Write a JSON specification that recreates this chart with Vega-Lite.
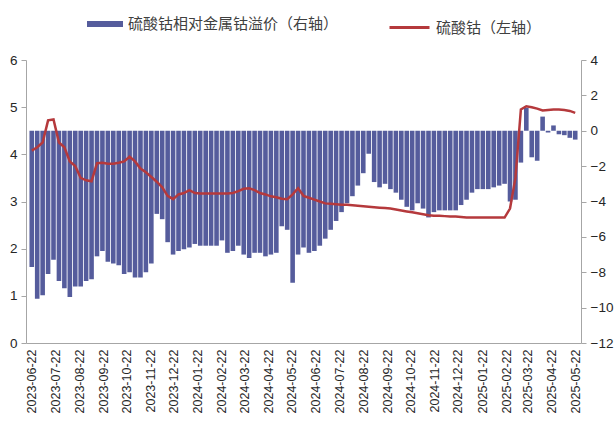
{
  "$schema": "https://vega.github.io/schema/vega-lite/v6.json",
  "width": 555,
  "height": 283,
  "autosize": {"type": "none"},
  "padding": {"left": 26, "top": 60, "right": 33, "bottom": 82},
  "config": {
    "view": {"stroke": null},
    "font": "Liberation Sans",
    "axis": {"labelFont": "Liberation Sans", "labelColor": "#262626", "domainColor": "#A6A6A6", "tickColor": "#A6A6A6", "grid": false, "title": null},
    "legend": {"labelFont": "Noto Sans CJK SC", "labelFontSize": 15, "labelColor": "#404040", "labelLimit": 500, "padding": 0, "labelOffset": 5, "title": null}
  },
  "data": {
    "format": {"parse": {"date": "utc:'%Y-%m-%d'"}},
    "values": [
      {"date": "2023-06-22", "premium": -7.7, "price": 4.08},
      {"date": "2023-06-29", "premium": -9.5, "price": 4.15},
      {"date": "2023-07-06", "premium": -9.3, "price": 4.25},
      {"date": "2023-07-13", "premium": -8.1, "price": 4.72},
      {"date": "2023-07-20", "premium": -7.3, "price": 4.74},
      {"date": "2023-07-27", "premium": -8.5, "price": 4.25},
      {"date": "2023-08-03", "premium": -8.9, "price": 4.15},
      {"date": "2023-08-10", "premium": -9.4, "price": 3.85},
      {"date": "2023-08-17", "premium": -8.8, "price": 3.75},
      {"date": "2023-08-24", "premium": -8.8, "price": 3.5},
      {"date": "2023-08-31", "premium": -8.5, "price": 3.45},
      {"date": "2023-09-07", "premium": -8.4, "price": 3.43},
      {"date": "2023-09-14", "premium": -7.1, "price": 3.81},
      {"date": "2023-09-21", "premium": -6.8, "price": 3.82},
      {"date": "2023-09-28", "premium": -7.4, "price": 3.8},
      {"date": "2023-10-05", "premium": -7.5, "price": 3.8},
      {"date": "2023-10-12", "premium": -7.6, "price": 3.82},
      {"date": "2023-10-19", "premium": -8.1, "price": 3.85},
      {"date": "2023-10-26", "premium": -8.0, "price": 3.95},
      {"date": "2023-11-02", "premium": -8.3, "price": 3.85},
      {"date": "2023-11-09", "premium": -8.3, "price": 3.7},
      {"date": "2023-11-16", "premium": -8.0, "price": 3.62},
      {"date": "2023-11-23", "premium": -7.5, "price": 3.52},
      {"date": "2023-11-30", "premium": -4.7, "price": 3.42},
      {"date": "2023-12-07", "premium": -5.0, "price": 3.3},
      {"date": "2023-12-14", "premium": -6.3, "price": 3.12},
      {"date": "2023-12-21", "premium": -7.0, "price": 3.05},
      {"date": "2023-12-28", "premium": -6.8, "price": 3.15},
      {"date": "2024-01-04", "premium": -6.7, "price": 3.18},
      {"date": "2024-01-11", "premium": -6.6, "price": 3.24},
      {"date": "2024-01-18", "premium": -6.4, "price": 3.18},
      {"date": "2024-01-25", "premium": -6.5, "price": 3.17},
      {"date": "2024-02-01", "premium": -6.5, "price": 3.17},
      {"date": "2024-02-08", "premium": -6.5, "price": 3.17},
      {"date": "2024-02-15", "premium": -6.5, "price": 3.17},
      {"date": "2024-02-22", "premium": -6.2, "price": 3.17},
      {"date": "2024-02-29", "premium": -6.9, "price": 3.17},
      {"date": "2024-03-07", "premium": -6.8, "price": 3.18},
      {"date": "2024-03-14", "premium": -6.5, "price": 3.22},
      {"date": "2024-03-21", "premium": -7.0, "price": 3.27},
      {"date": "2024-03-28", "premium": -7.2, "price": 3.28},
      {"date": "2024-04-04", "premium": -6.9, "price": 3.24},
      {"date": "2024-04-11", "premium": -6.9, "price": 3.18},
      {"date": "2024-04-18", "premium": -7.1, "price": 3.15},
      {"date": "2024-04-25", "premium": -7.0, "price": 3.11},
      {"date": "2024-05-02", "premium": -6.9, "price": 3.09},
      {"date": "2024-05-09", "premium": -5.4, "price": 3.06},
      {"date": "2024-05-16", "premium": -5.6, "price": 3.05},
      {"date": "2024-05-23", "premium": -8.6, "price": 3.15},
      {"date": "2024-05-30", "premium": -7.0, "price": 3.28},
      {"date": "2024-06-06", "premium": -6.6, "price": 3.12},
      {"date": "2024-06-13", "premium": -6.9, "price": 3.08},
      {"date": "2024-06-20", "premium": -6.8, "price": 3.04},
      {"date": "2024-06-27", "premium": -6.5, "price": 3.0},
      {"date": "2024-07-04", "premium": -6.1, "price": 2.96},
      {"date": "2024-07-11", "premium": -5.6, "price": 2.95},
      {"date": "2024-07-18", "premium": -5.1, "price": 2.94},
      {"date": "2024-07-25", "premium": -4.6, "price": 2.93},
      {"date": "2024-08-01", "premium": -4.1, "price": 2.93},
      {"date": "2024-08-08", "premium": -3.7, "price": 2.92},
      {"date": "2024-08-15", "premium": -3.1, "price": 2.91},
      {"date": "2024-08-22", "premium": -2.4, "price": 2.9},
      {"date": "2024-08-29", "premium": -1.3, "price": 2.89},
      {"date": "2024-09-05", "premium": -2.9, "price": 2.88},
      {"date": "2024-09-12", "premium": -3.2, "price": 2.87},
      {"date": "2024-09-19", "premium": -3.0, "price": 2.86},
      {"date": "2024-09-26", "premium": -3.3, "price": 2.85},
      {"date": "2024-10-03", "premium": -3.5, "price": 2.83},
      {"date": "2024-10-10", "premium": -3.9, "price": 2.81},
      {"date": "2024-10-17", "premium": -4.3, "price": 2.79},
      {"date": "2024-10-24", "premium": -4.5, "price": 2.77},
      {"date": "2024-10-31", "premium": -4.1, "price": 2.75},
      {"date": "2024-11-07", "premium": -4.4, "price": 2.73},
      {"date": "2024-11-14", "premium": -4.9, "price": 2.71},
      {"date": "2024-11-21", "premium": -4.6, "price": 2.7},
      {"date": "2024-11-28", "premium": -4.5, "price": 2.7},
      {"date": "2024-12-05", "premium": -4.5, "price": 2.69},
      {"date": "2024-12-12", "premium": -4.5, "price": 2.68},
      {"date": "2024-12-19", "premium": -4.5, "price": 2.68},
      {"date": "2024-12-26", "premium": -4.2, "price": 2.67},
      {"date": "2025-01-02", "premium": -3.9, "price": 2.66},
      {"date": "2025-01-09", "premium": -3.5, "price": 2.66},
      {"date": "2025-01-16", "premium": -3.3, "price": 2.66},
      {"date": "2025-01-23", "premium": -3.3, "price": 2.66},
      {"date": "2025-01-30", "premium": -3.3, "price": 2.66},
      {"date": "2025-02-06", "premium": -3.2, "price": 2.66},
      {"date": "2025-02-13", "premium": -3.1, "price": 2.66},
      {"date": "2025-02-20", "premium": -3.0, "price": 2.66},
      {"date": "2025-02-27", "premium": -4.0, "price": 2.85},
      {"date": "2025-03-06", "premium": -3.9, "price": 3.5},
      {"date": "2025-03-13", "premium": -1.8, "price": 4.95},
      {"date": "2025-03-20", "premium": 1.3, "price": 5.02},
      {"date": "2025-03-27", "premium": -1.5, "price": 5.0},
      {"date": "2025-04-03", "premium": -1.7, "price": 4.97},
      {"date": "2025-04-10", "premium": 0.8, "price": 4.93},
      {"date": "2025-04-17", "premium": -0.1, "price": 4.94},
      {"date": "2025-04-24", "premium": 0.3, "price": 4.95},
      {"date": "2025-05-01", "premium": -0.2, "price": 4.95},
      {"date": "2025-05-08", "premium": -0.25, "price": 4.94},
      {"date": "2025-05-15", "premium": -0.4, "price": 4.92},
      {"date": "2025-05-22", "premium": -0.5, "price": 4.88}
    ]
  },
  "encoding": {
    "x": {
      "field": "date",
      "type": "temporal",
      "scale": {
        "type": "utc",
        "domain": [
          {"year": 2023, "month": 6, "date": 21, "utc": true},
          {"year": 2025, "month": 5, "date": 23, "utc": true}
        ]
      },
      "axis": {
        "values": [
          {"year": 2023, "month": 6, "date": 22, "utc": true},
          {"year": 2023, "month": 7, "date": 22, "utc": true},
          {"year": 2023, "month": 8, "date": 22, "utc": true},
          {"year": 2023, "month": 9, "date": 22, "utc": true},
          {"year": 2023, "month": 10, "date": 22, "utc": true},
          {"year": 2023, "month": 11, "date": 22, "utc": true},
          {"year": 2023, "month": 12, "date": 22, "utc": true},
          {"year": 2024, "month": 1, "date": 22, "utc": true},
          {"year": 2024, "month": 2, "date": 22, "utc": true},
          {"year": 2024, "month": 3, "date": 22, "utc": true},
          {"year": 2024, "month": 4, "date": 22, "utc": true},
          {"year": 2024, "month": 5, "date": 22, "utc": true},
          {"year": 2024, "month": 6, "date": 22, "utc": true},
          {"year": 2024, "month": 7, "date": 22, "utc": true},
          {"year": 2024, "month": 8, "date": 22, "utc": true},
          {"year": 2024, "month": 9, "date": 22, "utc": true},
          {"year": 2024, "month": 10, "date": 22, "utc": true},
          {"year": 2024, "month": 11, "date": 22, "utc": true},
          {"year": 2024, "month": 12, "date": 22, "utc": true},
          {"year": 2025, "month": 1, "date": 22, "utc": true},
          {"year": 2025, "month": 2, "date": 22, "utc": true},
          {"year": 2025, "month": 3, "date": 22, "utc": true},
          {"year": 2025, "month": 4, "date": 22, "utc": true},
          {"year": 2025, "month": 5, "date": 22, "utc": true}
        ],
        "format": "%Y-%m-%d",
        "labelAngle": -90,
        "labelFontSize": 12.5,
        "ticks": false,
        "labelPadding": 6,
        "labelOverlap": false,
        "labelFlush": false,
        "title": null
      }
    }
  },
  "layer": [
    {
      "mark": {"type": "bar", "size": 4.6, "clip": true},
      "encoding": {
        "y": {
          "field": "premium",
          "type": "quantitative",
          "scale": {"domain": [-12, 4], "nice": false},
          "axis": {"orient": "right", "values": [-12, -10, -8, -6, -4, -2, 0, 2, 4], "labelFontSize": 13.5, "tickSize": 5, "labelPadding": 4, "title": null}
        },
        "fill": {
          "datum": "硫酸钴相对金属钴溢价（右轴）",
          "scale": {"range": ["#555C9C"]},
          "legend": {
            "orient": "none",
            "legendX": 61,
            "legendY": -54,
            "symbolType": "M-1,-0.16H1V0.16H-1Z",
            "symbolSize": 1296,
            "symbolStrokeWidth": 0
          }
        }
      }
    },
    {
      "mark": {"type": "line", "strokeWidth": 2.5, "interpolate": "linear"},
      "encoding": {
        "y": {
          "field": "price",
          "type": "quantitative",
          "scale": {"domain": [0, 6], "nice": false},
          "axis": {"orient": "left", "values": [0, 1, 2, 3, 4, 5, 6], "labelFontSize": 13.5, "tickSize": 5, "labelPadding": 4, "title": null}
        },
        "stroke": {
          "datum": "硫酸钴（左轴）",
          "scale": {"range": ["#B5393C"]},
          "legend": {
            "orient": "none",
            "legendX": 362,
            "legendY": -54,
            "symbolType": "stroke",
            "symbolSize": 1600,
            "symbolStrokeWidth": 3
          }
        }
      }
    }
  ],
  "resolve": {"scale": {"y": "independent"}}
}
